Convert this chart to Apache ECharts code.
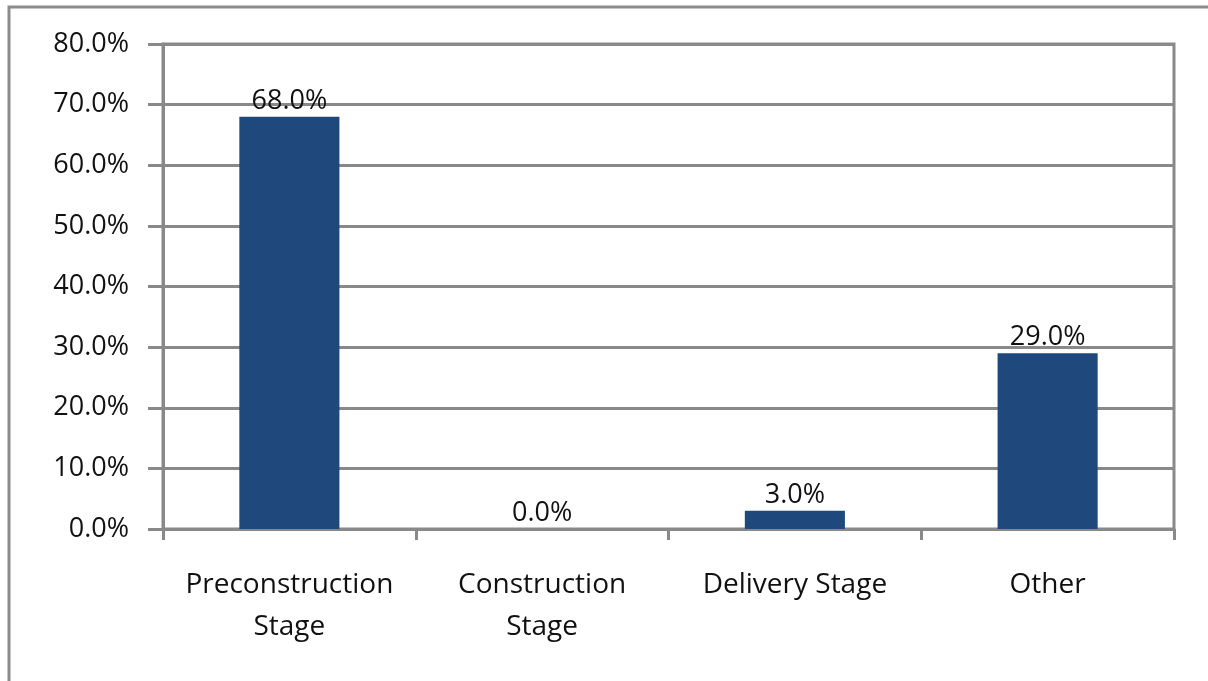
<!DOCTYPE html>
<html>
<head>
<meta charset="utf-8">
<style>
  html, body { margin: 0; padding: 0; background: #ffffff; }
  #chart { width: 1208px; height: 681px; }
</style>
<script src="https://cdn.jsdelivr.net/npm/echarts@6/dist/echarts.min.js"></script>
</head>
<body>
<div id="chart"></div>
<script>
// Share of responses by project stage
const categories = ['Preconstruction\nStage', 'Construction\nStage', 'Delivery Stage', 'Other'];
const shares = [68.0, 0.0, 3.0, 29.0];
const yTicks = [0, 10, 20, 30, 40, 50, 60, 70, 80];

const FONT = '"Open Sans", Lato, sans-serif';
const GRID_GRAY = '#898989';

const chart = echarts.init(document.getElementById('chart'), null, { renderer: 'canvas' });

chart.setOption({
  backgroundColor: '#ffffff',
  animation: false,
  graphic: [{
    type: 'rect',
    shape: { x: 9, y: 7, width: 1400, height: 900 },
    style: { fill: 'none', stroke: '#8c8c8c', lineWidth: 3 },
    silent: true
  }],
  grid: {
    left: 163, right: 34, top: 44, bottom: 152,
    show: true, borderColor: GRID_GRAY, borderWidth: 3, backgroundColor: 'transparent'
  },
  xAxis: {
    type: 'category',
    data: categories,
    axisLine: { show: true, lineStyle: { color: GRID_GRAY, width: 3 } },
    axisTick: { show: true, length: 11, lineStyle: { color: GRID_GRAY, width: 3 } },
    axisLabel: {
      margin: 35, color: '#111111', fontFamily: FONT, fontSize: 28, lineHeight: 42,
      interval: 0
    }
  },
  yAxis: {
    type: 'value',
    min: yTicks[0], max: yTicks[yTicks.length - 1], interval: 10,
    axisLine: { show: true, lineStyle: { color: GRID_GRAY, width: 3 } },
    axisTick: { show: true, length: 15, lineStyle: { color: GRID_GRAY, width: 3 } },
    splitLine: { show: true, lineStyle: { color: GRID_GRAY, width: 3 } },
    axisLabel: {
      margin: 34, color: '#111111', fontFamily: FONT, fontSize: 27,
      formatter: v => v.toFixed(1) + '%'
    }
  },
  series: [{
    type: 'bar',
    data: shares,
    barWidth: '39.6%',
    itemStyle: { color: '#1f497d' },
    label: {
      show: true, position: 'top', distance: 2,
      color: '#111111', fontFamily: FONT, fontSize: 27,
      formatter: p => p.value.toFixed(1) + '%'
    }
  }]
});
</script>
</body>
</html>
